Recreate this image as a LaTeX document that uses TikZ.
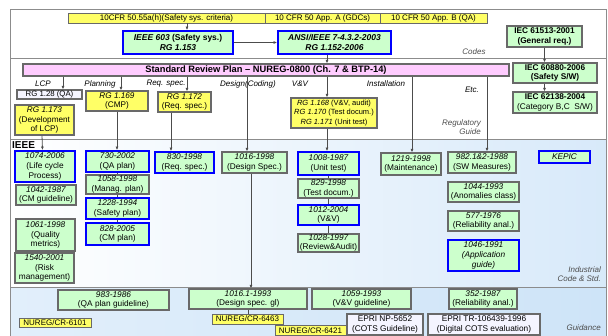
\documentclass[tikz,border=0pt]{standalone}
\usepackage{fontspec}
\setmainfont{Liberation Sans}
\usetikzlibrary{arrows.meta}

\definecolor{boxyellow}{RGB}{255,255,102}
\definecolor{boxgreen}{RGB}{204,255,204}
\definecolor{boxpink}{RGB}{255,204,255}
\definecolor{boxblue}{RGB}{0,0,255}
\definecolor{rimgray}{RGB}{105,105,105}
\definecolor{skyblue}{RGB}{206,228,248}
\definecolor{paleblue}{RGB}{244,244,255}

\begin{document}
\begin{tikzpicture}[x=1pt, y=-1pt,
	every node/.style={inner sep=0, align=center},
	codebox/.style={font=\fontsize{8}{8.5}\selectfont, draw=rimgray, line width=0.8, fill=boxyellow},
	rgbox/.style={font=\fontsize{8.2}{9.8}\selectfont, draw=rimgray, line width=1.2, fill=boxyellow},
	stdbox/.style={font=\fontsize{8.3}{9.8}\selectfont, draw=rimgray, line width=1.2, fill=boxgreen},
	keybox/.style={stdbox, draw=boxblue, line width=1.8},
	iecbox/.style={stdbox, font=\fontsize{8.3}{9.5}\selectfont\bfseries},
	eprbox/.style={stdbox, fill=paleblue},
	phase/.style={font=\fontsize{8}{9}\selectfont\itshape},
	area/.style={font=\fontsize{8}{9.5}\selectfont\itshape, text=black!70, align=right},
	rule/.style={draw=black!45, line width=1},
	link/.style={draw=black!70, line width=0.8},
	arr/.style={link, -{Latex[length=3.5,width=3]}}
]
\useasboundingbox (0,0) rectangle (608,336);

% backgrounds and frame
\shade[left color=white, right color=skyblue!80] (10,140) rectangle (606,288);
\shade[left color=skyblue!60, right color=skyblue] (10,288) rectangle (606,336);
\draw[rule] (10,336) -- (10,10) -- (606,10) -- (606,336);
\draw[rule] (10,59) -- (606,59);
\draw[rule] (10,140) -- (606,140);
\draw[rule] (10,288) -- (606,288);

% codes
\node[codebox, minimum width=197, minimum height=10] (cfr55) at (166.5,18) {10CFR 50.55a(h)(Safety sys. criteria)};
\node[codebox, minimum width=115, minimum height=10] (cfrA) at (322.5,18) {10 CFR 50 App. A (GDCs)};
\node[codebox, minimum width=107, minimum height=10] (cfrB) at (433.5,18) {10 CFR 50 App. B (QA)};

\node[keybox, font=\fontsize{8.5}{10}\selectfont\bfseries, minimum width=110, minimum height=23] (ieee603) at (178,42.5) {{\itshape IEEE 603} (Safety sys.)\\{\itshape RG 1.153}};
\node[keybox, font=\fontsize{8.5}{10}\selectfont\bfseries, minimum width=113, minimum height=23] (ansi) at (334.5,42.5) {{\itshape ANSI/IEEE 7-4.3.2-2003}\\{\itshape RG 1.152-2006}};
\node[area] (codes) at (474,52) {Codes};

\node[iecbox, minimum width=75, minimum height=21] (iec61513) at (544.5,36.5) {IEC 61513-2001\\(General req.)};
\node[iecbox, minimum width=84, minimum height=20] (iec60880) at (555,73) {IEC 60880-2006\\(Safety S/W)};
\node[iecbox, minimum width=84, minimum height=21] (iec62138) at (555,102.5) {IEC 62138-2004\\{\mdseries (Category B,C~~S/W)}};

\draw[arr] ([xshift=9]ieee603.north |- cfr55.south) -- ([xshift=9]ieee603.north);
\draw[arr] (ieee603) -- (ansi);
\draw[arr] (iec61513) -- (iec61513 |- iec60880.north);
\draw[arr] (iec61513 |- iec60880.south) -- (iec61513 |- iec62138.north);

% standard review plan
\node[stdbox, fill=boxpink, font=\fontsize{9.3}{10}\selectfont\bfseries, minimum width=486, minimum height=12] (srp) at (266,70) {Standard Review Plan -- NUREG-0800 (Ch. 7 \& BTP-14)};
\draw[arr] ([xshift=-7.5]ansi.south) -- ([xshift=-7.5]ansi.south |- srp.north);

\node[phase] (lcp) at (43,84) {LCP};
\node[phase] (planning) at (100,84) {Planning};
\node[phase] (reqspec) at (166,84) {Req. spec.};
\node[phase] (design) at (248,84) {Design(Coding)};
\node[phase] (vv) at (300,84) {V\&V};
\node[phase] (install) at (386,84) {Installation};
\node[phase] (etc) at (472,90) {Etc.};
\node[area, anchor=east] (regguide) at (481,127) {Regulatory\\Guide};

\node[eprbox, font=\fontsize{7.8}{9}\selectfont, minimum width=65, minimum height=9] (rg128) at (49.5,94.5) {RG 1.28 (QA)};
\node[rgbox, minimum width=59, minimum height=30] (rg173) at (44.5,120) {{\itshape RG 1.173}\\(Development\\of LCP)};
\node[rgbox, minimum width=62, minimum height=20] (rg169) at (117,101) {{\itshape RG 1.169}\\(CMP)};
\node[rgbox, minimum width=53, minimum height=20] (rg172) at (184.5,102) {{\itshape RG 1.172}\\(Req. spec.)};
\node[rgbox, font=\fontsize{7.5}{9.3}\selectfont, minimum width=86, minimum height=30] (rg168) at (334,113) {{\itshape RG 1.168} (V\&V, audit)\\{\itshape RG 1.170} (Test docum.)\\{\itshape RG 1.171} (Unit test)};

% IEEE
\node[font=\fontsize{10}{11}\selectfont\bfseries, anchor=west] (ieee) at (12,145) {IEEE};

\node[keybox, minimum width=60, minimum height=31] (n1074) at (45,166.5) {{\itshape 1074-2006}\\(Life cycle\\Process)};
\node[stdbox, minimum width=60, minimum height=20] (n1042) at (46,195) {{\itshape 1042-1987}\\(CM guideline)};
\node[stdbox, minimum width=59, minimum height=32] (n1061) at (45.5,235) {{\itshape 1061-1998}\\(Quality\\metrics)};
\node[stdbox, minimum width=59, minimum height=30] (n1540) at (44.5,268) {{\itshape 1540-2001}\\(Risk\\management)};

\node[keybox, minimum width=63, minimum height=21] (n730) at (117.5,161.5) {{\itshape 730-2002}\\(QA plan)};
\node[stdbox, minimum width=63, minimum height=19] (n1058) at (117.5,184.5) {{\itshape 1058-1998}\\(Manag. plan)};
\node[keybox, minimum width=63, minimum height=21] (n1228) at (117.5,208.5) {{\itshape 1228-1994}\\(Safety plan)};
\node[keybox, minimum width=63, minimum height=22] (n828) at (117.5,234) {{\itshape 828-2005}\\(CM plan)};

\node[keybox, minimum width=59, minimum height=21] (n830) at (184.5,162.5) {{\itshape 830-1998}\\(Req. spec.)};
\node[stdbox, minimum width=65, minimum height=21] (n1016) at (254.5,162.5) {{\itshape 1016-1998}\\(Design Spec.)};

\node[keybox, minimum width=61, minimum height=23] (n1008) at (328.5,163.5) {{\itshape 1008-1987}\\(Unit test)};
\node[stdbox, minimum width=61, minimum height=19] (n829) at (328.5,188.5) {{\itshape 829-1998}\\(Test docum.)};
\node[keybox, minimum width=61, minimum height=20] (n1012) at (328.5,215) {{\itshape 1012-2004}\\(V\&V)};
\node[stdbox, minimum width=61, minimum height=18] (n1028) at (328.5,243) {{\itshape 1028-1997}\\(Review\&Audit)};

\node[stdbox, minimum width=60, minimum height=22] (n1219) at (411,164) {{\itshape 1219-1998}\\(Maintenance)};

\node[stdbox, minimum width=68, minimum height=21] (n982) at (482,162.5) {{\itshape 982.1\&2-1988}\\(SW Measures)};
\node[stdbox, minimum width=71, minimum height=20] (n1044) at (483.5,192) {{\itshape 1044-1993}\\(Anomalies class)};
\node[stdbox, minimum width=71, minimum height=20] (n577) at (483.5,221) {{\itshape 577-1976}\\(Reliability anal.)};
\node[keybox, font=\fontsize{8.3}{9.8}\selectfont\itshape, minimum width=71, minimum height=31] (n1046) at (483.5,255.5) {1046-1991\\(Application\\guide)};

\node[keybox, font=\fontsize{8.3}{9.5}\selectfont\itshape, minimum width=51, minimum height=12] (kepic) at (564.5,157) {KEPIC};
\node[area, anchor=east] (industrial) at (601,274) {Industrial\\Code \& Std.};

% guidance
\node[stdbox, minimum width=111, minimum height=20] (n983) at (113.5,300) {{\itshape 983-1986}\\(QA plan guideline)};
\node[stdbox, minimum width=118, minimum height=20] (n1016g) at (248,299) {{\itshape 1016.1-1993}\\(Design spec. gl)};
\node[stdbox, minimum width=99, minimum height=20] (n1059) at (361.5,299) {{\itshape 1059-1993}\\(V\&V guideline)};
\node[stdbox, minimum width=68, minimum height=20] (n352) at (483,299) {{\itshape 352-1987}\\(Reliability anal.)};

\node[codebox, minimum width=72, minimum height=9] (cr6101) at (55,322.5) {NUREG/CR-6101};
\node[codebox, minimum width=71, minimum height=10] (cr6463) at (247.5,319) {NUREG/CR-6463};
\node[codebox, minimum width=71, minimum height=10] (cr6421) at (310.5,330.5) {NUREG/CR-6421};
\node[eprbox, minimum width=76, minimum height=21] (epri5652) at (385,324.5) {EPRI NP-5652\\(COTS Guideline)};
\node[eprbox, minimum width=112, minimum height=21] (epri106) at (484,324.5) {EPRI TR-106439-1996\\(Digital COTS evaluation)};
\node[area, anchor=east] (guidance) at (601,328) {Guidance};

% regulatory guide links
\draw[arr] ([xshift=13.5]rg128.north |- srp.south) -- ([xshift=13.5]rg128.north);
\draw[arr] ([xshift=4]rg169.north |- srp.south) -- ([xshift=4]rg169.north);
\draw[arr] ([xshift=2.5]rg172.north |- srp.south) -- ([xshift=2.5]rg172.north);
\draw[arr] ([xshift=-7.5]n1016.north |- srp.south) -- ([xshift=-7.5]n1016.north);
\draw[arr] ([xshift=-7]rg168.north |- srp.south) -- ([xshift=-7]rg168.north);
\draw[arr] ([xshift=1]n1219.north |- srp.south) -- ([xshift=1]n1219.north);
\draw[arr] ([xshift=5]n982.north |- srp.south) -- ([xshift=5]n982.north);

\draw[arr] ([xshift=-2.5]rg173.south) -- ([xshift=-2.5]n1074.north);
\draw[arr] (rg169) -- (rg169 |- n730.north);
\draw[arr] ([xshift=-13.5]rg172.south) -- ([xshift=-13.5]rg172.south |- n830.north);
\draw[arr] ([xshift=-7]rg168.south) -- ([xshift=-7]rg168.south |- n1008.north);
\draw[arr] ([xshift=-3.5]n1016.south) -- ([xshift=-3.5]n1016.south |- n1016g.north);

% chains
\draw[link] (n730) -- (n1058);
\draw[link] (n1058) -- (n1228);
\draw[link] (n1228) -- (n828);
\draw[link] (n1008) -- (n829);
\draw[link] (n829) -- (n1012);
\draw[link] (n1012) -- (n1028);
\draw[link] (n1016g) -- (n1016g |- cr6463.north);
\end{tikzpicture}
\end{document}
